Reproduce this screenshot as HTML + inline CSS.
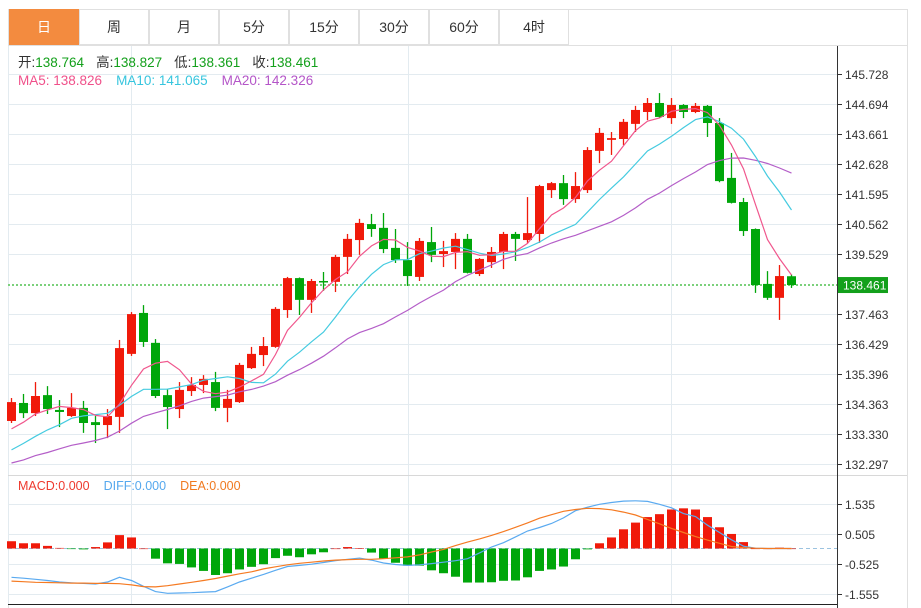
<!DOCTYPE html>
<html><head><meta charset="utf-8"><style>
html,body{margin:0;padding:0;background:#fff;width:921px;height:608px;overflow:hidden}
svg{display:block;font-family:"Liberation Sans","Noto Sans CJK SC",sans-serif}
</style></head><body>
<svg id="chart" width="921" height="608" viewBox="0 0 921 608" xmlns="http://www.w3.org/2000/svg">
<rect x="8.5" y="9.5" width="899" height="610" fill="#fff" stroke="#e0e0e0"/>
<g id="tabs"></g>
<g id="grid"></g>
<g id="macd"></g>
<g id="main"></g>
<g id="axis"></g>
<g font-size="13.5">
<text x="18" y="67"><tspan fill="#333">开:</tspan><tspan fill="#13a01b">138.764</tspan><tspan fill="#333" dx="12">高:</tspan><tspan fill="#13a01b">138.827</tspan><tspan fill="#333" dx="12">低:</tspan><tspan fill="#13a01b">138.361</tspan><tspan fill="#333" dx="12">收:</tspan><tspan fill="#13a01b">138.461</tspan></text>
<text x="18" y="85"><tspan fill="#f0508a">MA5: 138.826</tspan><tspan fill="#36c5de" dx="14">MA10: 141.065</tspan><tspan fill="#b455c8" dx="14">MA20: 142.326</tspan></text>
<text x="18" y="490" font-size="12.5"><tspan fill="#ee3a2e">MACD:0.000</tspan><tspan fill="#55a8ee" dx="14">DIFF:0.000</tspan><tspan fill="#f07a20" dx="14">DEA:0.000</tspan></text>
</g>
</svg>
<script>
const tabLabels=["日","周","月","5分","15分","30分","60分","4时"];
const history=[131.9,131.7,132.0,131.6,131.8,132.1,131.9,131.7,132.0,132.1,131.8,132.2,132.0,132.3,132.0,132.9,133.2,133.5,133.5];
const opens=[133.78,134.40,134.05,134.67,134.16,133.95,134.23,133.74,133.64,133.92,136.09,137.50,136.47,134.67,134.19,134.81,135.02,135.12,134.23,134.43,135.60,136.05,136.33,137.60,138.70,137.95,138.60,138.57,139.43,140.01,140.56,140.43,139.74,139.32,138.74,139.94,139.53,139.60,140.05,138.84,139.25,139.60,140.22,140.01,140.22,141.73,141.97,141.42,141.73,143.08,143.46,143.49,144.01,144.42,144.73,144.21,144.66,144.42,144.63,144.04,142.15,141.32,140.39,138.50,138.02,138.764];
const highs=[134.57,134.71,135.12,134.98,134.50,134.74,134.47,133.95,134.19,136.57,137.53,137.77,136.60,134.88,135.12,135.29,135.36,135.47,134.85,135.78,136.33,136.67,137.70,138.74,138.72,138.67,138.91,139.50,140.22,140.74,140.91,140.94,140.39,139.94,140.08,140.46,139.98,140.25,140.22,139.39,139.77,140.29,140.29,141.49,141.91,142.01,142.25,142.35,143.21,143.87,143.73,144.18,144.63,144.90,145.07,144.90,144.69,144.73,144.66,144.21,143.01,141.46,140.41,138.94,139.15,138.827];
const lows=[133.71,133.88,133.95,134.02,133.57,133.92,133.37,133.02,133.19,133.37,136.02,136.33,134.57,133.50,133.88,134.64,134.74,134.12,133.74,134.40,135.57,135.67,136.30,137.33,137.43,137.50,138.26,138.22,138.84,139.50,140.12,139.56,139.22,138.43,138.60,139.25,139.08,139.01,138.86,138.77,139.05,139.01,139.29,139.91,139.91,141.46,141.22,141.29,141.63,142.66,142.94,143.28,143.73,144.14,144.22,144.01,144.21,144.38,143.56,142.00,141.27,140.15,138.19,137.95,137.26,138.361];
const closes=[134.43,134.05,134.64,134.19,134.09,134.23,133.71,133.64,133.95,136.29,137.46,136.50,134.64,134.26,134.85,135.02,135.23,134.23,134.54,135.71,136.09,136.36,137.64,138.70,137.95,138.60,138.57,139.43,140.05,140.60,140.39,139.70,139.32,138.77,139.98,139.50,139.63,140.05,138.88,139.36,139.60,140.22,140.05,140.25,141.87,141.97,141.42,141.87,143.11,143.70,143.52,144.08,144.49,144.73,144.25,144.66,144.42,144.63,144.04,142.04,141.29,140.32,138.46,138.02,138.77,138.461];
const macdHist=[0.25,0.18,0.18,0.09,0.02,-0.01,-0.03,0.05,0.21,0.46,0.38,0,-0.35,-0.51,-0.53,-0.65,-0.77,-0.91,-0.85,-0.72,-0.63,-0.54,-0.33,-0.25,-0.30,-0.20,-0.13,0,0.05,0.01,-0.14,-0.36,-0.49,-0.59,-0.59,-0.75,-0.85,-0.97,-1.17,-1.17,-1.16,-1.11,-1.10,-0.99,-0.77,-0.72,-0.62,-0.37,-0.03,0.18,0.38,0.66,0.89,1.08,1.18,1.34,1.38,1.34,1.08,0.73,0.50,0.22,0,0,0.03,0];
const diffVals=[-0.99,-1.02,-1.06,-1.10,-1.15,-1.18,-1.20,-1.22,-1.15,-0.99,-1.10,-1.30,-1.48,-1.54,-1.53,-1.52,-1.50,-1.48,-1.32,-1.15,-1.02,-0.89,-0.75,-0.62,-0.58,-0.54,-0.48,-0.42,-0.37,-0.33,-0.40,-0.50,-0.55,-0.58,-0.56,-0.52,-0.47,-0.42,-0.35,-0.15,0.05,0.20,0.40,0.60,0.72,0.86,1.05,1.30,1.42,1.52,1.58,1.63,1.64,1.62,1.52,1.40,1.20,1.10,0.80,0.55,0.30,0.08,0.01,0,0,0];
const deaVals=[-1.12,-1.14,-1.16,-1.17,-1.18,-1.19,-1.19,-1.20,-1.20,-1.21,-1.25,-1.31,-1.32,-1.28,-1.22,-1.16,-1.10,-1.03,-0.95,-0.87,-0.80,-0.70,-0.63,-0.56,-0.51,-0.47,-0.43,-0.40,-0.38,-0.37,-0.37,-0.35,-0.32,-0.29,-0.22,-0.12,-0.03,0.10,0.22,0.33,0.45,0.58,0.73,0.88,1.04,1.16,1.28,1.34,1.38,1.37,1.33,1.25,1.15,1.00,0.85,0.69,0.55,0.41,0.29,0.18,0.07,0.03,0.01,0,0,0];
const priceTicks=["145.728","144.694","143.661","142.628","141.595","140.562","139.529","137.463","136.429","135.396","134.363","133.330","132.297"];
const macdTicks=["1.535","0.505","-0.525","-1.555"];
const lastPrice="138.461";

const NS="http://www.w3.org/2000/svg";
function mk(tag,attrs,parent,text){const e=document.createElementNS(NS,tag);for(const k in attrs)e.setAttribute(k,attrs[k]);if(text!==undefined)e.textContent=text;parent.appendChild(e);return e;}
const xOf=i=>11.5+12*i;
const yP=p=>74+(145.728-p)*29.04;
const yM=v=>548.5-v*29.1;
const L=8,R=837;

const tabs=document.getElementById('tabs');
tabLabels.forEach((t,i)=>{
  const x=9+70*i;
  const r=mk('rect',{x:x+0.5,y:9.5,width:69,height:35,fill:i===0?'#f38b3f':'#fff',stroke:i===0?'#f38b3f':'#e0e0e0'},tabs);
  
  
  const tx=mk('text',{x:x+35,y:32,'text-anchor':'middle','font-size':14,fill:i===0?'#fff':'#333'},tabs,t);
  
  
});
mk('line',{x1:9,y1:45.5,x2:907,y2:45.5,stroke:'#e0e0e0'},tabs);

const grid=document.getElementById('grid');
priceTicks.forEach(t=>{const y=Math.round(yP(+t))+0.5;const g=mk('line',{x1:L,y1:y,x2:R,y2:y,stroke:'#e3ebf0'},grid);});
macdTicks.forEach(t=>{const y=Math.round(yM(+t))+0.5;const g=mk('line',{x1:L,y1:y,x2:R,y2:y,stroke:'#e3ebf0'},grid);});
[131.5,408.5,671.5].forEach(x=>{const g=mk('line',{x1:x,y1:46,x2:x,y2:604,stroke:'#e3ebf0'},grid);});
mk('line',{x1:8.5,y1:46,x2:8.5,y2:604,stroke:'#e3ebf0'},grid);
mk('line',{x1:L,y1:475.5,x2:907,y2:475.5,stroke:'#d8d8d8'},grid);

const macd=document.getElementById('macd');
const z=yM(0);
mk('line',{x1:L,y1:z,x2:R,y2:z,stroke:'#9cc3e0','stroke-dasharray':'4,3'},macd);
macdHist.forEach((v,i)=>{
  const y=yM(v);
  const b=mk('rect',{x:xOf(i)-4.5,y:Math.min(y,z),width:9,height:Math.max(Math.abs(y-z),0.6),fill:v>=0?'#f01a0a':'#00a60a'},macd);
  
  
});
function poly(vals,fy,color,parent,name){
  const pts=vals.map((v,i)=>xOf(i)+','+fy(v).toFixed(1)).join(' ');
  const p=mk('polyline',{points:pts,fill:'none',stroke:color,'stroke-width':1.2},parent);
  
  
}
poly(diffVals,yM,'#5aaaf0',macd,'diff-line');
poly(deaVals,yM,'#f57a22',macd,'dea-line');

const main=document.getElementById('main');
mk('line',{x1:L,y1:yP(+lastPrice),x2:R,y2:yP(+lastPrice),stroke:'#7bd07b','stroke-width':2,'stroke-dasharray':'2,2'},main);
opens.forEach((o,i)=>{
  const c=closes[i],up=c>=o,col=up?'#f01a0a':'#00a60a',x=xOf(i);
  const g=mk('g',{},main);
  
  
  mk('line',{x1:x,y1:yP(highs[i]),x2:x,y2:yP(lows[i]),stroke:col,'stroke-width':1.3},g);
  const t=yP(Math.max(o,c)),b=yP(Math.min(o,c));
  mk('rect',{x:x-4.5,y:t,width:9,height:Math.max(b-t,1.5),fill:col},g);
});
const all=history.concat(closes);
function ma(n){return closes.map((_,i)=>{let s=0;for(let k=0;k<n;k++)s+=all[i+history.length-k];return s/n;});}
poly(ma(20),yP,'#b45ec8',main,'ma20-line');
poly(ma(10),yP,'#45cbe0',main,'ma10-line');
poly(ma(5),yP,'#f0578d',main,'ma5-line');

const axis=document.getElementById('axis');
mk('line',{x1:837.5,y1:46,x2:837.5,y2:608,stroke:'#333'},axis);
mk('line',{x1:8,y1:604.5,x2:837,y2:604.5,stroke:'#222'},axis);
priceTicks.forEach(t=>{const y=Math.round(yP(+t))+0.5;mk('line',{x1:837,y1:y,x2:842,y2:y,stroke:'#333'},axis);
  const tx=mk('text',{x:845,y:y+4.5,'font-size':12,fill:'#333'},axis,t);});
macdTicks.forEach(t=>{const y=Math.round(yM(+t))+0.5;mk('line',{x1:837,y1:y,x2:842,y2:y,stroke:'#333'},axis);
  const tx=mk('text',{x:845,y:y+4.5,'font-size':12,fill:'#333'},axis,t);});
const ly=yP(+lastPrice);
const lb=mk('rect',{x:838,y:ly-8,width:50,height:16,fill:'#13a01b'},axis);


mk('text',{x:843,y:ly+4.5,'font-size':12,fill:'#fff'},axis,lastPrice);
</script>
</body></html>
